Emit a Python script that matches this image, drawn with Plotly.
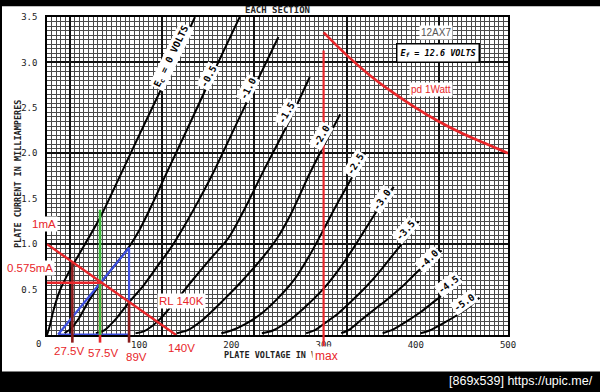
import plotly.graph_objects as go

# ---------------- data ----------------
X_TICKS = [100, 200, 300, 400, 500]
Y_TICKS = [0.5, 1.0, 1.5, 2.0, 2.5, 3.0, 3.5]
HEAVY_X = [25, 125, 225, 325, 425]
HEAVY_Y = [1.0, 2.0, 3.0]

GRID_VOLTS = ["0", "-0.5", "-1.0", "-1.5", "-2.0", "-2.5", "-3.0", "-3.5", "-4.0", "-4.5", "-5.0"]

V_EC0 = [0, 3, 7, 14, 21, 28.6, 40, 57.5, 81, 100, 122.6, 140, 160.5]
I_EC0 = [0, 0.1, 0.27, 0.49, 0.64, 0.78, 0.98, 1.29, 1.79, 2.2, 2.68, 3.05, 3.5]
V_EC05 = [19, 26, 35, 45, 57.5, 73, 89, 101, 115, 130, 150, 171, 188, 209]
I_EC05 = [0.02, 0.07, 0.19, 0.37, 0.56, 0.76, 0.97, 1.17, 1.46, 1.79, 2.22, 2.68, 3.05, 3.5]
V_EC10 = [53, 62, 75, 89, 105, 120, 135, 150, 165, 180, 210, 251]
I_EC10 = [0.02, 0.05, 0.18, 0.36, 0.55, 0.76, 0.97, 1.22, 1.49, 1.78, 2.42, 3.28]
V_EC15 = [96, 105, 120, 140, 160, 180, 197, 215, 234, 260, 285]
I_EC15 = [0.02, 0.04, 0.15, 0.38, 0.63, 0.87, 1.07, 1.4, 1.79, 2.3, 2.84]
V_EC20 = [141, 152, 168, 190, 212, 236, 250, 264, 285, 300, 318]
I_EC20 = [0.02, 0.05, 0.16, 0.37, 0.6, 0.88, 1.07, 1.32, 1.78, 2.08, 2.43]
V_EC25 = [189, 200, 215, 233, 250, 269, 285, 301, 315, 330, 345]
I_EC25 = [0.02, 0.05, 0.12, 0.24, 0.4, 0.62, 0.88, 1.18, 1.45, 1.72, 2.01]
V_EC30 = [233, 245, 260, 278, 300, 315, 330, 345, 360, 376]
I_EC30 = [0.02, 0.05, 0.14, 0.29, 0.51, 0.7, 0.92, 1.16, 1.4, 1.63]
V_EC35 = [281, 290, 300, 315, 330, 345, 360, 375, 390, 403]
I_EC35 = [0.02, 0.05, 0.12, 0.23, 0.37, 0.52, 0.69, 0.88, 1.07, 1.25]
V_EC40 = [319, 328, 340, 355, 370, 385, 400, 415, 428]
I_EC40 = [0.02, 0.06, 0.16, 0.28, 0.4, 0.53, 0.68, 0.82, 0.93]
V_EC45 = [364, 375, 390, 405, 420, 435, 449]
I_EC45 = [0.02, 0.06, 0.15, 0.25, 0.37, 0.49, 0.62]
V_EC50 = [405, 415, 430, 445, 458, 469]
I_EC50 = [0.02, 0.05, 0.13, 0.22, 0.31, 0.41]

CURVES_V = [V_EC0, V_EC05, V_EC10, V_EC15, V_EC20, V_EC25, V_EC30, V_EC35, V_EC40, V_EC45, V_EC50]
CURVES_I = [I_EC0, I_EC05, I_EC10, I_EC15, I_EC20, I_EC25, I_EC30, I_EC35, I_EC40, I_EC45, I_EC50]

# 1 W plate dissipation limit
V_PD = [300, 325, 350, 375, 400, 425, 450, 475, 500]
I_PD = [3.33, 3.08, 2.86, 2.67, 2.5, 2.35, 2.22, 2.11, 2.0]

# load line 140k, operating point, swing
V_LOAD = [0, 140]
I_LOAD = [1.0, 0]
V_Q = 57.5
I_Q = 0.575
V_SWING = [27.5, 89]
I_SWING = [0.80, 0.364]
V_MAX = 300
I_MAX_TOP = 3.13
I_GREEN_TOP = 1.38
V_BLUE = [12, 89, 89, 12]
I_BLUE = [0.005, 0.96, 0.005, 0.005]

Y_MAX = 3.5
X_MAX = 500

# ---------------- styles ----------------
RED = "#e8262a"
MAROON = "#8a1c1c"
GREEN = "#3cba3c"
BLUE = "#3d4fe0"
MONO = "DejaVu Sans Mono"
SANS = "Liberation Sans"

fig = go.Figure()

for v, i in zip(CURVES_V, CURVES_I):
    fig.add_trace(go.Scatter(x=v, y=i, mode="lines",
                             line=dict(color="black", width=2, shape="spline", smoothing=0.8),
                             hoverinfo="skip"))

fig.add_trace(go.Scatter(x=V_PD, y=I_PD, mode="lines",
                         line=dict(color=RED, width=2.6, shape="spline"), hoverinfo="skip"))
fig.add_trace(go.Scatter(x=[V_MAX, V_MAX], y=[0, I_MAX_TOP], mode="lines",
                         line=dict(color=RED, width=2.2), hoverinfo="skip"))

# blue triangle
fig.add_trace(go.Scatter(x=V_BLUE, y=I_BLUE, mode="lines",
                         line=dict(color=BLUE, width=2.2), hoverinfo="skip"))
# red vertical under Q
fig.add_trace(go.Scatter(x=[V_Q, V_Q], y=[0, I_Q], mode="lines",
                         line=dict(color=RED, width=2.6), hoverinfo="skip"))
# green vertical
fig.add_trace(go.Scatter(x=[V_Q, V_Q], y=[0, I_GREEN_TOP], mode="lines",
                         line=dict(color=GREEN, width=2.6), hoverinfo="skip"))
# maroon swing verticals
for vs, isw in zip(V_SWING, I_SWING):
    fig.add_trace(go.Scatter(x=[vs, vs], y=[0, isw], mode="lines",
                             line=dict(color=MAROON, width=2.6), hoverinfo="skip"))
# load line
fig.add_trace(go.Scatter(x=V_LOAD, y=I_LOAD, mode="lines",
                         line=dict(color=RED, width=2.4), hoverinfo="skip"))
# Q horizontal
fig.add_trace(go.Scatter(x=[0, V_Q + 1], y=[I_Q, I_Q], mode="lines",
                         line=dict(color=RED, width=2.4), hoverinfo="skip"))

# heavy-grid overlay axes (dummy trace)
fig.add_trace(go.Scatter(x=[None], y=[None], xaxis="x2", yaxis="y2", hoverinfo="skip"))

shapes = []
# stubs below the axis (x in data, y in paper)
STUB = -0.024
for vs in V_SWING + [V_Q]:
    shapes.append(dict(type="line", xref="x", yref="paper", x0=vs, x1=vs, y0=STUB, y1=0,
                       line=dict(color=MAROON if vs != V_Q else RED, width=2.6)))
shapes.append(dict(type="line", xref="x", yref="paper", x0=V_MAX, x1=V_MAX, y0=-0.036, y1=0,
                   line=dict(color=RED, width=2.2)))


def px_x(x):
    return (x - 47) / 461.0


def px_y(y):
    return (335 - y) / 322.0


# frame: black bands (decoration of the screenshot)
shapes.append(dict(type="rect", xref="paper", yref="paper", x0=px_x(-5), x1=px_x(605),
                   y0=px_y(397), y1=px_y(372), fillcolor="black", line=dict(width=0), layer="above"))
shapes.append(dict(type="rect", xref="paper", yref="paper", x0=px_x(-5), x1=px_x(605),
                   y0=px_y(2), y1=px_y(-5), fillcolor="black", line=dict(width=0), layer="above"))
shapes.append(dict(type="rect", xref="paper", yref="paper", x0=px_x(-5), x1=px_x(2),
                   y0=px_y(397), y1=px_y(-5), fillcolor="black", line=dict(width=0), layer="above"))

annotations = []


def note(x, y, text, family, size, color, angle=0, bg=None, pad=1, **kw):
    d = dict(x=px_x(x), y=px_y(y), xref="paper", yref="paper", text=text, showarrow=False,
             textangle=angle, font=dict(family=family, size=size, color=color),
             xanchor="center", yanchor="middle", borderpad=pad)
    if bg:
        d["bgcolor"] = bg
    d.update(kw)
    annotations.append(d)


# curve labels (data coordinates)
LABEL_POS = [(135.2, 3.065, -64), (175, 2.845, -62), (218.3, 2.709, -62), (260, 2.446, -60),
             (298, 2.192, -60), (335, 1.884, -58), (363, 1.495, -55), (388.3, 1.152, -48),
             (413.6, 0.834, -45), (435.2, 0.554, -37), (452.3, 0.353, -35)]
for k, (lab, (lx, ly, ang)) in enumerate(zip(GRID_VOLTS, LABEL_POS)):
    txt = "<b>E<sub>c</sub> = 0 VOLTS</b>" if k == 0 else "<b>" + lab + "</b>"
    annotations.append(dict(x=lx, y=ly, xref="x", yref="y", text=txt, showarrow=False,
                            textangle=ang, font=dict(family=MONO, size=9.5, color="black"),
                            bgcolor="white", borderpad=1, xanchor="center", yanchor="middle"))

# red annotations
note(44, 223, "1mA", SANS, 11.5, RED, bg="white")
note(30, 267, "0.575mA", SANS, 11.5, RED, bg="white")
note(69, 351, "27.5V", SANS, 11.5, RED, bg="white")
note(103, 353, "57.5V", SANS, 11.5, RED, bg="white")
note(136, 357, "89V", SANS, 11.5, RED, bg="white")
note(181, 348, "140V", SANS, 11.5, RED, bg="white")
note(181, 301, "RL 140K", SANS, 11.5, RED, bg="white")
note(431, 86, "pd 1Watt", SANS, 10, RED, bg="white")

# axis titles and printed texts
note(18, 172, "<b>PLATE CURRENT IN MILLIAMPERES</b>", MONO, 8.5, "#222", angle=-90)
note(222, 355, "<b>PLATE VOLTAGE IN VOLTS</b>", MONO, 8.5, "#222", xanchor="left")
note(326, 356, "max", SANS, 12, RED, bg="white", pad=2)
note(38, 344, "0", MONO, 9, "#222")
note(277, 6, "<b>EACH SECTION</b>", MONO, 9, "#222")
note(436, 29, "12AX7", SANS, 10, "#555", bg="white")
note(437.5, 49, "<b><i>E<sub>f</sub> = 12.6 VOLTS</i></b>", MONO, 8.5, "black", bg="white",
     pad=3, bordercolor="black", borderwidth=1.5)
note(595, 382, "[869x539] https://upic.me/", SANS, 12.5, "white", xanchor="right")

GRID = "#4a4a4a"
fig.update_layout(
    width=600, height=392, autosize=False,
    margin=dict(l=47, r=92, t=13, b=57, pad=0),
    paper_bgcolor="white", plot_bgcolor="white", showlegend=False,
    xaxis=dict(range=[0, X_MAX], tickmode="array", tickvals=X_TICKS,
               ticktext=[str(t) for t in X_TICKS], showgrid=True, gridcolor=GRID, gridwidth=1,
               minor=dict(dtick=5, tick0=0, showgrid=True, gridcolor=GRID, gridwidth=1),
               showline=True, linecolor="black", linewidth=1.5, mirror=True, zeroline=False,
               ticks="", ticklabelstandoff=0, tickfont=dict(family=MONO, size=9, color="#222")),
    yaxis=dict(range=[0, Y_MAX], tickmode="array", tickvals=Y_TICKS,
               ticktext=["%.1f" % t for t in Y_TICKS], showgrid=True, gridcolor=GRID, gridwidth=1,
               minor=dict(dtick=0.05, tick0=0, showgrid=True, gridcolor=GRID, gridwidth=1),
               showline=True, linecolor="black", linewidth=1.5, mirror=True, zeroline=False,
               ticks="", ticklabelstandoff=6, tickfont=dict(family=MONO, size=9, color="#222")),
    xaxis2=dict(overlaying="x", range=[0, X_MAX], tickmode="array", tickvals=HEAVY_X,
                showticklabels=False, showgrid=True, gridcolor="#111", gridwidth=1.6,
                zeroline=False, showline=False, ticks=""),
    yaxis2=dict(overlaying="y", range=[0, Y_MAX], tickmode="array", tickvals=HEAVY_Y,
                showticklabels=False, showgrid=True, gridcolor="#111", gridwidth=1.6,
                zeroline=False, showline=False, ticks=""),
    shapes=shapes, annotations=annotations,
)

fig.write_html("out.html")
